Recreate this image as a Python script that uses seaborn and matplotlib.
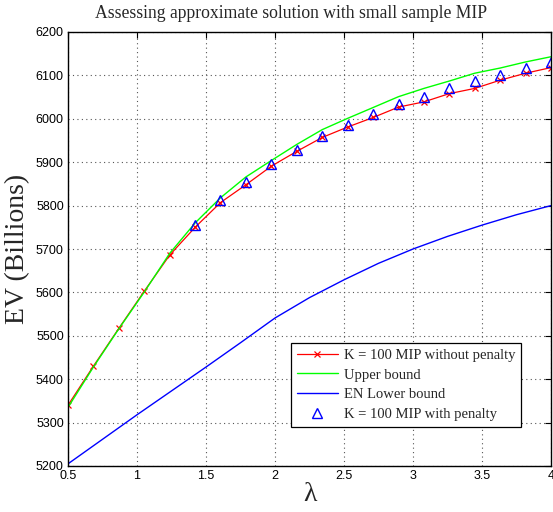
import numpy as np
import pandas as pd
import matplotlib
matplotlib.use("Agg")
import matplotlib.pyplot as plt
import seaborn as sns

# ---- data ----
lam = [0.5, 0.684, 0.868, 1.053, 1.237, 1.421, 1.605, 1.789, 1.974, 2.158,
       2.342, 2.526, 2.711, 2.895, 3.079, 3.263, 3.447, 3.632, 3.816, 4.0]
mip_no_pen = [5340, 5430, 5517, 5603, 5686, 5750, 5807, 5848, 5891, 5925,
              5957, 5981, 6003, 6027, 6039, 6058, 6070, 6089, 6105, 6118]
upper = [5335, 5428, 5516, 5601, 5690, 5760, 5818, 5866, 5904, 5941,
         5975, 6001, 6026, 6051, 6070, 6087, 6105, 6117, 6131, 6143]
lam_en = [0.5, 1.0, 1.5, 1.75, 2.0, 2.25, 2.5, 2.75, 3.0, 3.25, 3.5, 3.75, 4.0]
en_lower = [5205, 5318, 5428, 5484, 5541, 5588, 5629, 5667, 5700, 5729, 5755, 5779, 5800]
lam_pen = lam[5:]
mip_pen = [5755, 5812, 5854, 5895, 5929, 5960, 5985, 6010, 6033, 6051,
           6070, 6087, 6102, 6116, 6130]

xticks = [0.5, 1, 1.5, 2, 2.5, 3, 3.5, 4]
xticklabels = ["0.5", "1", "1.5", "2", "2.5", "3", "3.5", "4"]
yticks = list(range(5200, 6201, 100))

sns.set_theme(style="white")
plt.rcParams['font.family'] = ['Liberation Sans', 'DejaVu Sans']

fig = plt.figure(figsize=(5.53, 5.12), dpi=100)
ax = fig.add_axes([68/553, 1-466/512, (551-68)/553, (466-32)/512])

sns.lineplot(x=lam, y=mip_no_pen, ax=ax, color="#ff0000", lw=0.9, marker="x",
             markersize=4.5, markeredgewidth=0.9, markeredgecolor="#ff0000",
             label="K = 100 MIP without penalty")
sns.lineplot(x=lam, y=upper, ax=ax, color="#00ff00", lw=1.0, label="Upper bound")
sns.lineplot(x=lam_en, y=en_lower, ax=ax, color="#0000ff", lw=1.0, label="EN Lower bound")
ax.plot(lam_pen, mip_pen, linestyle="none", marker="^", markersize=6.5,
        markerfacecolor="none", markeredgecolor="#0000ff", markeredgewidth=1.0,
        label="K = 100 MIP with penalty")

ax.set_xlim(0.5, 4)
ax.set_ylim(5200, 6200)
ax.set_xticks(xticks)
ax.set_xticklabels(xticklabels)
ax.set_yticks(yticks)
ax.tick_params(direction="in", length=4, width=0.8, top=True, right=True,
               labelsize=9, colors="black", pad=3)
for s in ax.spines.values():
    s.set_visible(True)
    s.set_color("black")
    s.set_linewidth(1.0)
ax.grid(True, color="#555555", linestyle=(0, (1, 3)), linewidth=0.8)

serif = ['Liberation Serif', 'DejaVu Serif']
fig.text(291.5/553, 1-13/512, "Assessing approximate solution with small sample MIP",
         family=serif, fontsize=12.7, ha="center", va="center")
ax.set_ylabel("EV (Billions)", family=serif, fontsize=20, labelpad=4)
ax.set_xlabel("λ", family=serif, fontsize=20, labelpad=0)

leg = ax.legend(loc="lower right", bbox_to_anchor=(0.938, 0.09),
                prop={'family': serif, 'size': 10.5}, frameon=True,
                fancybox=False, framealpha=1, edgecolor="black",
                borderpad=0.4, labelspacing=0.45, handlelength=2.8,
                handletextpad=0.4, borderaxespad=0)
leg.get_frame().set_linewidth(0.9)

fig.savefig("out.png", dpi=100)
